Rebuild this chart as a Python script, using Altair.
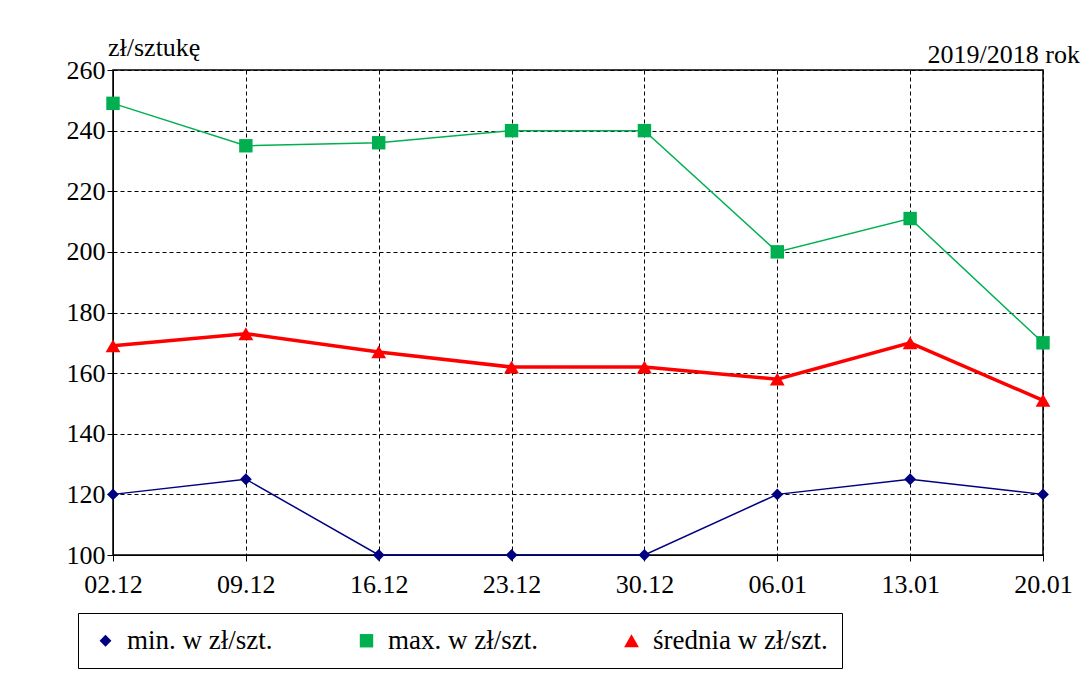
import pandas as pd
import altair as alt

dates = ['02.12', '09.12', '16.12', '23.12', '30.12', '06.01', '13.01', '20.01']
min_vals = [120, 125, 100, 100, 100, 120, 125, 120]
max_vals = [249, 235, 236, 240, 240, 200, 211, 170]
avg_vals = [169, 173, 167, 162, 162, 158, 170, 151]
series = ['min. w zł/szt.', 'max. w zł/szt.', 'średnia w zł/szt.']
colors = ['#000080', '#00B050', '#FF0000']
widths = [1.5, 1.5, 3.5]

rows = []
for name, vals in zip(series, [min_vals, max_vals, avg_vals]):
    for d, v in zip(dates, vals):
        rows.append({'date': d, 'value': v, 'series': name})
df = pd.DataFrame(rows)

FONT = "Liberation Serif, Times New Roman, serif"

x = alt.X('date:O', sort=dates, scale=alt.Scale(type='point', padding=0),
          axis=alt.Axis(title=None, labelAngle=0, labelFontSize=26, labelPadding=10, labelFont=FONT,
                        grid=True, gridColor='black', gridDash=[4, 3], tickSize=6,
                        domainColor='black', tickColor='black', labelColor='black'))
y = alt.Y('value:Q', scale=alt.Scale(domain=[100, 260], nice=False),
          axis=alt.Axis(title=None, values=list(range(100, 261, 20)), labelFontSize=26, labelFont=FONT,
                        grid=True, gridColor='black', gridDash=[4, 3], tickSize=6,
                        domainColor='black', tickColor='black', labelColor='black'))

layers = []
for name, c, w in zip(series, colors, widths):
    layers.append(alt.Chart(df[df.series == name]).mark_line(color=c, strokeWidth=w).encode(x=x, y=y))

pts = alt.Chart(df).mark_point(filled=True, opacity=1).encode(
    x=x, y=y,
    color=alt.Color('series:N', sort=series, scale=alt.Scale(domain=series, range=colors),
                    legend=alt.Legend(title=None, orient='none', legendX=-35, legendY=543,
                                      direction='horizontal', strokeColor='black', labelFont=FONT,
                                      padding=14, labelFontSize=27, labelLimit=400, labelOffset=8,
                                      symbolSize=350, columnPadding=80, labelColor='black')),
    shape=alt.Shape('series:N', sort=series,
                    scale=alt.Scale(domain=series, range=['diamond', 'square', 'triangle-up'])),
    size=alt.Size('series:N', sort=series, scale=alt.Scale(domain=series, range=[140, 220, 480]), legend=None))

lbl = pd.DataFrame({'t': ['zł/sztukę', '2019/2018 rok']})
left = alt.Chart(lbl.iloc[[0]]).mark_text(font=FONT, fontSize=26, align='left', color='black').encode(
    text='t', x=alt.value(-5), y=alt.value(-22))
right = alt.Chart(lbl.iloc[[1]]).mark_text(font=FONT, fontSize=26, align='right', color='black').encode(
    text='t', x=alt.value(967), y=alt.value(-15))

chart = alt.layer(*layers, pts, left, right).properties(
    width=930, height=485,
    background='white',
    autosize=alt.AutoSizeParams(type='none'),
    padding={'left': 105, 'top': 62, 'right': 40, 'bottom': 120},
).configure(font=FONT).configure_view(stroke='black', strokeWidth=1.5)

chart.save("out.html", embed_options={"renderer": "svg", "actions": False})
